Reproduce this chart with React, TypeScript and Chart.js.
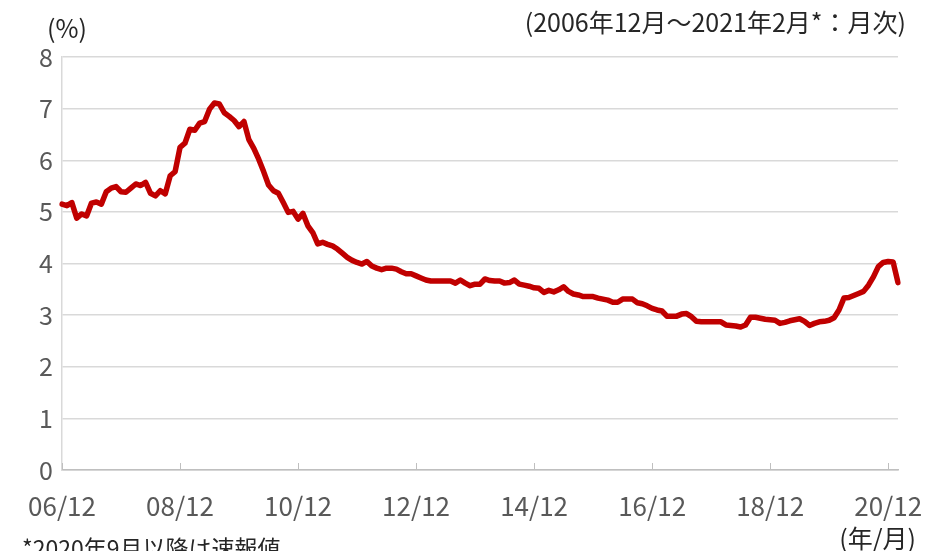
import { useEffect, useRef } from 'react';
import { Chart, registerables } from 'chart.js';

Chart.register(...registerables);

const FONT = "'Noto Sans CJK JP', 'Noto Sans', sans-serif";

const START_YEAR = 2006;
const START_MONTH = 12;

// Monthly rate (%), 2006/12 - 2021/02
const rates: number[] = [
  5.15, 5.12, 5.18, 4.88, 4.96, 4.92, 5.17, 5.19, 5.15, 5.39, 5.46, 5.49,
  5.39, 5.38, 5.46, 5.54, 5.51, 5.57, 5.36, 5.31, 5.41, 5.35, 5.70, 5.78,
  6.25, 6.33, 6.60, 6.58, 6.72, 6.75, 6.99, 7.11, 7.09, 6.92, 6.85, 6.77,
  6.65, 6.75, 6.40, 6.23, 6.02, 5.78, 5.52, 5.41, 5.36, 5.18, 4.99, 5.01,
  4.86, 4.97, 4.73, 4.60, 4.38, 4.41, 4.37, 4.34, 4.28, 4.20, 4.12, 4.06,
  4.02, 3.99, 4.04, 3.95, 3.91, 3.88, 3.91, 3.91, 3.89, 3.84, 3.80, 3.80,
  3.76, 3.72, 3.68, 3.66, 3.66, 3.66, 3.66, 3.66, 3.62, 3.68, 3.62, 3.57,
  3.60, 3.60, 3.70, 3.67, 3.66, 3.66, 3.62, 3.63, 3.68, 3.60, 3.58, 3.56,
  3.53, 3.52, 3.44, 3.48, 3.45, 3.49, 3.55, 3.46, 3.41, 3.39, 3.36, 3.36,
  3.36, 3.33, 3.31, 3.29, 3.25, 3.25, 3.31, 3.31, 3.31, 3.24, 3.22, 3.18,
  3.13, 3.10, 3.08, 2.98, 2.98, 2.98, 3.02, 3.03, 2.97, 2.88, 2.87, 2.87,
  2.87, 2.87, 2.87, 2.81, 2.80, 2.79, 2.77, 2.81, 2.96, 2.96, 2.94, 2.92,
  2.91, 2.90, 2.84, 2.86, 2.89, 2.91, 2.93, 2.88, 2.80, 2.84, 2.87, 2.88,
  2.90, 2.95, 3.10, 3.33, 3.34, 3.38, 3.42, 3.46, 3.58, 3.74, 3.94, 4.02,
  4.04, 4.03, 3.63,
];

const tickLabels: string[] = ['06/12', '08/12', '10/12', '12/12', '14/12', '16/12', '18/12', '20/12'];

const Y_MIN = 0;
const Y_MAX = 8;
const Y_STEP = 1;

const TITLE_TEXT = '(2006年12月～2021年2月*：月次)';
const UNIT_TEXT = '(%)';
const X_UNIT_TEXT = '(年/月)';
const NOTE_TEXT = '*2020年9月以降は速報値';

const categories: string[] = rates.map((_, i) => {
  const m = START_MONTH - 1 + i;
  const y = START_YEAR + Math.floor(m / 12);
  const mo = (m % 12) + 1;
  return `${String(y % 100).padStart(2, '0')}/${mo}`;
});

const decorPlugin = {
  id: 'decor',
  afterDraw(chart: any) {
    const { ctx, chartArea, scales } = chart;
    const xs = scales.x;
    ctx.save();
    // upward tick marks on the x axis
    ctx.strokeStyle = '#bfbfbf';
    ctx.lineWidth = 1;
    categories.forEach((c, i) => {
      if (!tickLabels.includes(c)) return;
      const px = Math.round(xs.getPixelForValue(i)) + 0.5;
      ctx.beginPath();
      ctx.moveTo(px, chartArea.bottom);
      ctx.lineTo(px, chartArea.bottom - 7);
      ctx.stroke();
    });
    // texts
    ctx.fillStyle = '#262626';
    ctx.textBaseline = 'middle';
    ctx.font = `25px ${FONT}`;
    ctx.textAlign = 'right';
    ctx.fillText(TITLE_TEXT, 906, 22);
    ctx.textAlign = 'left';
    ctx.fillText(UNIT_TEXT, 47, 28);
    ctx.textAlign = 'right';
    ctx.fillText(X_UNIT_TEXT, 916, 538);
    ctx.font = `23px ${FONT}`;
    ctx.textAlign = 'left';
    ctx.fillText(NOTE_TEXT, 22, 548);
    ctx.restore();
  },
};

export default function App() {
  const ref = useRef<HTMLCanvasElement | null>(null);
  useEffect(() => {
    if (!ref.current) return;
    const chart = new Chart(ref.current, {
      type: 'line',
      data: {
        labels: categories,
        datasets: [
          {
            data: rates,
            borderColor: '#c00000',
            borderWidth: 5.5,
            pointRadius: 0,
            pointHoverRadius: 0,
            tension: 0,
            fill: false,
            borderJoinStyle: 'round',
            borderCapStyle: 'round',
          },
        ],
      },
      options: {
        animation: false,
        responsive: false,
        devicePixelRatio: 1,
        events: [],
        layout: { padding: { left: 0, right: 28, top: 57, bottom: 0 } },
        plugins: { legend: { display: false }, tooltip: { enabled: false }, title: { display: false } },
        scales: {
          x: {
            type: 'category',
            offset: false,
            grid: { display: true, drawOnChartArea: false, drawTicks: false },
            border: { display: true, color: '#bfbfbf', width: 1.5 },
            ticks: {
              autoSkip: false,
              maxRotation: 0,
              minRotation: 0,
              padding: 21,
              color: '#595959',
              font: { family: FONT, size: 26 },
              callback: (_v: any, idx: number) => (tickLabels.includes(categories[idx]) ? categories[idx] : null),
            },
            afterFit: (s: any) => {
              s.height = 81;
              s.paddingLeft = 0;
              s.paddingRight = 0;
            },
          },
          y: {
            min: Y_MIN,
            max: Y_MAX,
            grid: { color: '#d9d9d9', lineWidth: 1.5, drawTicks: false },
            border: { display: true, color: '#d9d9d9', width: 1.5 },
            ticks: {
              stepSize: Y_STEP,
              padding: 9,
              color: '#595959',
              font: { family: FONT, size: 25 },
            },
            afterFit: (s: any) => {
              s.width = 62;
              s.paddingTop = 0;
              s.paddingBottom = 0;
            },
          },
        },
      },
      plugins: [decorPlugin],
    });
    return () => chart.destroy();
  }, []);
  return (
    <div style={{ position: 'absolute', left: 0, top: 0, width: 926, height: 551, background: '#fff' }}>
      <canvas ref={ref} width={926} height={551} style={{ display: 'block' }} />
    </div>
  );
}
